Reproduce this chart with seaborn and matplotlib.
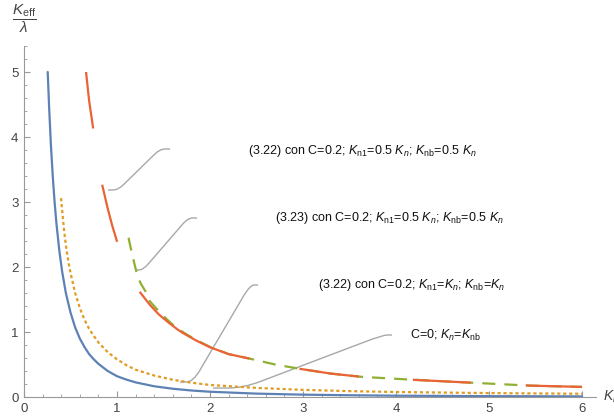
import numpy as np
import pandas as pd
import seaborn as sns
import matplotlib.pyplot as plt
from matplotlib.path import Path
from matplotlib.patches import PathPatch
from matplotlib.ticker import MultipleLocator

# values
blue_x = [0.255, 0.27, 0.29, 0.31, 0.33, 0.35, 0.38, 0.41, 0.45, 0.50, 0.55, 0.60, 0.65, 0.70, 0.75,
          0.80, 0.90, 1.00, 1.10, 1.20, 1.40, 1.60, 1.80, 2.00, 2.50, 3.00, 3.50, 4.00, 5.00, 6.00]
blue_y = [5.00, 4.46, 3.86, 3.38, 2.98, 2.65, 2.25, 1.93, 1.60, 1.30, 1.07, 0.90, 0.77, 0.66, 0.58,
          0.51, 0.40, 0.32, 0.268, 0.225, 0.165, 0.127, 0.100, 0.081, 0.052, 0.036, 0.027, 0.020,
          0.013, 0.009]

orange_x = [0.398, 0.42, 0.44, 0.46, 0.48, 0.50, 0.55, 0.60, 0.65, 0.70, 0.75, 0.80, 0.90, 1.00, 1.10,
            1.20, 1.40, 1.60, 1.80, 2.00, 2.50, 3.00, 3.50, 4.00, 5.00, 6.00]
orange_y = [3.06, 2.72, 2.45, 2.24, 2.06, 1.91, 1.60, 1.37, 1.19, 1.05, 0.94, 0.84, 0.69, 0.58, 0.49,
            0.42, 0.33, 0.265, 0.22, 0.185, 0.14, 0.11, 0.09, 0.077, 0.06, 0.05]

red_x = [0.667, 0.70, 0.746, 0.80, 0.843, 0.90, 0.95, 1.005, 1.10, 1.20, 1.254, 1.355, 1.45, 1.55, 1.65,
         1.708, 1.85, 2.00, 2.20, 2.443, 2.70, 2.98, 3.30, 3.63, 4.25, 4.88, 5.44, 6.00]
red_y = [5.00, 4.56, 4.11, 3.62, 3.25, 2.90, 2.63, 2.37, 2.00, 1.72, 1.60, 1.415, 1.27, 1.15, 1.04,
         0.985, 0.87, 0.765, 0.66, 0.585, 0.50, 0.43, 0.36, 0.31, 0.26, 0.215, 0.175, 0.155]

green_x = [1.124, 1.157, 1.211, 1.25, 1.308, 1.355, 1.449, 1.54, 1.632, 1.74, 1.849, 2.00, 2.20, 2.443,
           2.70, 2.98, 3.30, 3.63, 4.25, 4.88, 5.44, 6.00]
green_y = [2.45, 2.23, 1.91, 1.76, 1.62, 1.47, 1.32, 1.19, 1.07, 0.97, 0.88, 0.77, 0.66, 0.585,
           0.50, 0.43, 0.36, 0.31, 0.26, 0.215, 0.175, 0.155]

# callouts: label, leader path (curve end -> label end), label position
callout_labels = [
    r"(3.22) con C=0.2; $K_{\mathrm{n1}}$=0.5 $K_n$; $K_{\mathrm{nb}}$=0.5 $K_n$",
    r"(3.23) con C=0.2; $K_{\mathrm{n1}}$=0.5 $K_n$; $K_{\mathrm{nb}}$=0.5 $K_n$",
    r"(3.22) con C=0.2; $K_{\mathrm{n1}}$=$K_n$; $K_{\mathrm{nb}}$=$K_n$",
    r"C=0; $K_n$=$K_{\mathrm{nb}}$",
]
callout_paths = [
    [(0.903, 3.185), (1.011, 3.185), (1.462, 3.815), (1.570, 3.815)],
    [(1.194, 1.954), (1.280, 1.954), (1.763, 2.754), (1.860, 2.754)],
    [(1.677, 0.231), (1.817, 0.231), (2.430, 1.723), (2.516, 1.723)],
    [(2.032, 0.138), (2.355, 0.138), (3.860, 0.954), (3.957, 0.954)],
]
callout_text_pos = [(2.41, 3.785), (2.70, 2.754), (3.16, 1.723), (4.15, 0.954)]

sns.set_style("white")
plt.rcParams['font.family'] = ['Liberation Sans', 'DejaVu Sans']
plt.rcParams['mathtext.fontset'] = 'custom'
plt.rcParams['mathtext.rm'] = 'Liberation Sans'
plt.rcParams['mathtext.it'] = 'Liberation Sans:italic'
plt.rcParams['lines.scale_dashes'] = False

fig = plt.figure(figsize=(6.14, 4.19), dpi=100)
ax = fig.add_axes([24 / 614, 1 - 397 / 419, 572 / 614, 351 / 419])

lw = 1.6
sns.lineplot(x=blue_x, y=blue_y, color='#5E81B5', lw=lw, ax=ax, zorder=3)
sns.lineplot(x=orange_x, y=orange_y, color='#E19C24', lw=lw, ax=ax, zorder=3,
             linestyle=(0, (2.3, 2.0)), dash_capstyle='butt')
sns.lineplot(x=green_x, y=green_y, color='#8FB032', lw=lw, ax=ax, zorder=3,
             linestyle=(0, (9.4, 6.5)))
sns.lineplot(x=red_x, y=red_y, color='#EB6235', lw=lw, ax=ax, zorder=4,
             linestyle=(0, (41, 41, 42.5, 39.6, 95, 36.7, 43.2, 38.9, 41.8, 39.6, 60, 40)))

# callout leaders with rounded bends
for pts, label, (tx, ty) in zip(callout_paths, callout_labels, callout_text_pos):
    p0, p1, p2, p3 = [np.array(p) for p in pts]
    a = p1 + (p0 - p1) * 0.5
    b = p1 + (p2 - p1) * 0.12
    c = p2 + (p1 - p2) * 0.12
    d = p2 + (p3 - p2) * 0.5
    verts = [p0, a, p1, b, c, p2, d, p3]
    codes = [Path.MOVETO, Path.LINETO, Path.CURVE3, Path.CURVE3, Path.LINETO,
             Path.CURVE3, Path.CURVE3, Path.LINETO]
    ax.add_patch(PathPatch(Path(verts, codes), fill=False, edgecolor='#A8A8A8', lw=1.0, zorder=2))
    ax.text(tx, ty, label, fontsize=9.0, color='#111111', ha='left', va='center')

ax.set_xlim(0, 6.15)
ax.set_ylim(0, 5.4)
ax.set_xlabel('')
ax.set_ylabel('')
ax.xaxis.set_major_locator(MultipleLocator(1))
ax.xaxis.set_minor_locator(MultipleLocator(0.2))
ax.yaxis.set_major_locator(MultipleLocator(1))
ax.yaxis.set_minor_locator(MultipleLocator(0.2))
ax.tick_params(which='major', direction='in', length=4, width=0.8, color='#999999',
               labelsize=9.5, labelcolor='#444444', pad=4)
ax.tick_params(which='minor', direction='in', length=2, width=0.6, color='#999999')
ax.tick_params(axis='y', which='both', left=True)
ax.tick_params(axis='x', which='both', bottom=True)
for side in ['top', 'right']:
    ax.spines[side].set_visible(False)
for side in ['left', 'bottom']:
    ax.spines[side].set_color('#999999')
    ax.spines[side].set_linewidth(0.8)

ax.text(0, 5.82, r'$\dfrac{K_{\mathrm{eff}}}{\lambda}$', fontsize=11, color='#444444',
        ha='center', va='center', clip_on=False)
ax.text(6.23, 0, r'$K_n$', fontsize=10, color='#444444', ha='left', va='center', clip_on=False)

fig.savefig('out.png', dpi=100)
